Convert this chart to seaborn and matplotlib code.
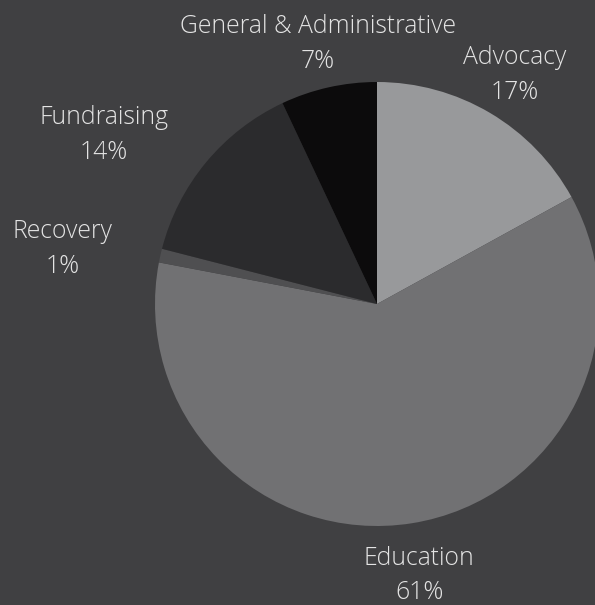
import matplotlib
matplotlib.use("Agg")
import matplotlib.pyplot as plt
import seaborn as sns
import numpy as np

categories = ["Advocacy", "Education", "Recovery", "Fundraising", "General & Administrative"]
shares = [17, 61, 1, 14, 7]
slice_colors = ["#98999b", "#717173", "#4f4f51", "#2b2b2d", "#0c0b0c"]
label_align = ["center", "center", "right", "right", "center"]

bg = "#404042"
text_color = "#e4e4e4"

sns.set_theme(style="white", rc={"figure.facecolor": bg, "axes.facecolor": bg})
plt.rcParams["font.family"] = ["Open Sans", "DejaVu Sans"]

W, H, dpi = 595, 605, 100
radius_px = 222
cx_px, cy_px = 377, 304

fig = plt.figure(figsize=(W / dpi, H / dpi), dpi=dpi)
ax = fig.add_axes([0, 0, 1, 1])
ax.set_facecolor(bg)

labels = [f"{c}\n{v}%" for c, v in zip(categories, shares)]
wedges, texts = ax.pie(
    shares,
    labels=labels,
    colors=slice_colors,
    startangle=90,
    counterclock=False,
    labeldistance=1.22,
    wedgeprops={"linewidth": 0},
    textprops={"color": text_color, "fontsize": 17.8, "fontweight": "light",
               "linespacing": 1.52},
)
# labels sit a little lower than matplotlib's default anchor
for t, ha in zip(texts, label_align):
    t.set_horizontalalignment(ha)
    t.set_verticalalignment("center")
    t.set_multialignment("center")
    x, y = t.get_position()
    t.set_position((x, y - 4 / radius_px))

ax.set_xlim(-cx_px / radius_px, (W - cx_px) / radius_px)
ax.set_ylim(-(H - cy_px) / radius_px, cy_px / radius_px)
ax.set_aspect("equal", adjustable="datalim")
ax.axis("off")

fig.savefig("out.png", dpi=dpi, facecolor=bg)
